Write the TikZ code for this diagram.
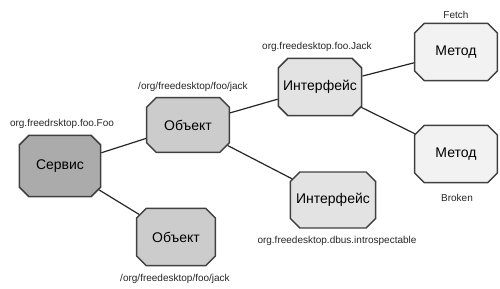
\documentclass[tikz,border=0pt]{standalone}
\usepackage{fontspec}
\setmainfont{Liberation Sans}
\usetikzlibrary{shapes.misc, positioning}

\tikzset{
    octa/.style={chamfered rectangle, chamfered rectangle xsep=3.6pt,
        chamfered rectangle ysep=3.6pt, draw=black!75, line width=1.1pt,
        minimum width=62pt, minimum height=43pt, inner sep=0pt,
        font=\fontsize{10.5}{12}\selectfont},
    tag/.style={font=\fontsize{7.5}{9}\selectfont, text=black!85},
    link/.style={line width=0.9pt, black!85}
}

\begin{document}
\begin{tikzpicture}[x=0.75pt, y=-0.75pt]
    \useasboundingbox (0,0) rectangle (500,289);

    % nodes
    \node[octa, fill=black!33, minimum width=61pt, minimum height=46pt] (service) at (60,166) {Сервис};
    \node[octa, fill=black!20, minimum height=41pt] (objA) at (188,125) {Объект};
    \node[octa, fill=black!20, minimum width=59pt] (objB) at (176,237) {Объект};
    \node[octa, fill=black!11] (ifaceA) at (320,87) {Интерфейс};
    \node[octa, fill=black!11, minimum width=64pt, minimum height=42pt] (ifaceB) at (333,200) {Интерфейс};
    \node[octa, fill=black!5] (methA) at (456,52) {Метод};
    \node[octa, fill=black!5] (methB) at (456,154) {Метод};

    % labels
    \node[tag] (serviceL) at (62,124) {org.freedrsktop.foo.Foo};
    \node[tag] (objAL) at (193,87) {/org/freedesktop/foo/jack};
    \node[tag] (objBL) at (175,279) {/org/freedesktop/foo/jack};
    \node[tag] (ifaceAL) at (317,47) {org.freedesktop.foo.Jack};
    \node[tag] (ifaceBL) at (337,241) {org.freedesktop.dbus.introspectable};
    \node[tag] (methAL) at (456,15) {Fetch};
    \node[tag] (methBL) at (457,198) {Broken};

    % connectors
    \draw[link] (service) -- (objA);
    \draw[link] (service) -- (objB);
    \draw[link] (objA) -- (ifaceA);
    \draw[link] (objA) -- (ifaceB);
    \draw[link] (ifaceA) -- (methA);
    \draw[link] (ifaceA) -- (methB);
\end{tikzpicture}
\end{document}
